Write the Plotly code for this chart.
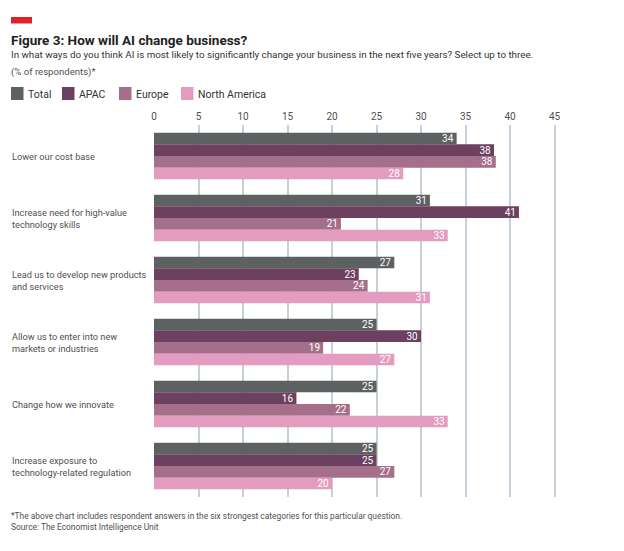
import plotly.graph_objects as go

categories = [
    "Lower our cost base",
    "Increase need for high-value<br>technology skills",
    "Lead us to develop new products<br>and services",
    "Allow us to enter into new<br>markets or industries",
    "Change how we innovate",
    "Increase exposure to<br>technology-related regulation",
]
series_names = ["Total", "APAC", "Europe", "North America"]
total = [34, 31, 27, 25, 25, 25]
apac = [38.2, 41, 23, 30, 16, 25]
europe = [38.4, 21, 24, 19, 22, 27]
north_america = [28, 33, 31, 27, 33, 20]
x_ticks = [0, 5, 10, 15, 20, 25, 30, 35, 40, 45]

colors = ["#5e6162", "#6c405f", "#a56e8b", "#e39cc0"]
FONT = "Roboto, Arial, sans-serif"
TXT = "#505050"

# page has an 8px body margin; work in window pixels and convert
OFF = 8
W, H = 624 - 2 * OFF, 551 - 2 * OFF
L, T = 154 - OFF, 125 - OFF
R = W - (559 - OFF)
B = H - (497 - OFF)
pw = W - L - R
ph = H - T - B


def px(x):
    return (x - OFF - L) / pw


def py(y):
    return 1 - (y - OFF - T) / ph


fig = go.Figure()
for name, vals, c in zip(series_names, [total, apac, europe, north_america], colors):
    fig.add_trace(go.Bar(
        y=categories, x=vals, name=name, orientation="h",
        marker=dict(color=c, line=dict(width=0)),
        texttemplate="%{x:.0f}", textposition="inside", insidetextanchor="end",
        textangle=0,
        textfont=dict(color="white", size=10, family=FONT),
        constraintext="none", cliponaxis=False, showlegend=False,
    ))

for cat in categories:
    fig.add_annotation(
        x=px(10), xref="paper", y=cat, yref="y",
        text=cat, showarrow=False, xanchor="left", align="left",
        font=dict(family=FONT, size=9.2, color=TXT),
    )

fig.update_layout(
    width=W, height=H,
    margin=dict(l=L, r=R, t=T, b=B, autoexpand=False),
    paper_bgcolor="white", plot_bgcolor="white",
    barmode="group", bargap=0.247, bargroupgap=0,
    font=dict(family=FONT, color=TXT),
    showlegend=False,
    xaxis=dict(
        side="top", range=[0, 45.5], tickvals=x_ticks, showgrid=True,
        gridcolor="#c6d0d9", gridwidth=1.5, zeroline=False, showline=False,
        ticks="", ticklabelstandoff=2,
        tickfont=dict(size=10, color=TXT, family=FONT), fixedrange=True,
    ),
    yaxis=dict(
        autorange="reversed", showticklabels=False, showgrid=False,
        zeroline=False, showline=False, ticks="", fixedrange=True,
    ),
)

# legend (series names and colours)
legend_x = [11, 62, 119, 181]
for name, c, lx in zip(series_names, colors, legend_x):
    fig.add_shape(type="rect", xref="paper", yref="paper",
                  x0=px(lx), x1=px(lx + 12.5), y0=py(100), y1=py(87),
                  fillcolor=c, line=dict(width=0))
    fig.add_annotation(xref="paper", yref="paper", x=px(lx + 15), y=py(94),
                       xanchor="left", yanchor="middle", showarrow=False,
                       text=name, font=dict(family=FONT, size=10.5, color="#333"))

fig.add_shape(type="rect", xref="paper", yref="paper",
              x0=px(11), x1=px(32), y0=py(23.5), y1=py(17),
              fillcolor="#e3202a", line=dict(width=0))
fig.add_annotation(xref="paper", yref="paper", x=px(9), y=py(40),
                   xanchor="left", yanchor="middle", showarrow=False,
                   text="<b>Figure 3: How will AI change business?</b>",
                   font=dict(family=FONT, size=13.5, color="#222"))
fig.add_annotation(xref="paper", yref="paper", x=px(9), y=py(55),
                   xanchor="left", yanchor="middle", showarrow=False,
                   text="In what ways do you think AI is most likely to significantly change your business in the next five years? Select up to three.",
                   font=dict(family=FONT, size=9.8, color="#333"))
fig.add_annotation(xref="paper", yref="paper", x=px(9), y=py(72),
                   xanchor="left", yanchor="middle", showarrow=False,
                   text="(% of respondents)*",
                   font=dict(family=FONT, size=9.6, color=TXT))
fig.add_annotation(xref="paper", yref="paper", x=px(9), y=py(521),
                   xanchor="left", yanchor="middle", showarrow=False, align="left",
                   text="*The above chart includes respondent answers in the six strongest categories for this particular question.<br>Source: The Economist Intelligence Unit",
                   font=dict(family=FONT, size=8.4, color=TXT))

fig.write_html("out.html")
